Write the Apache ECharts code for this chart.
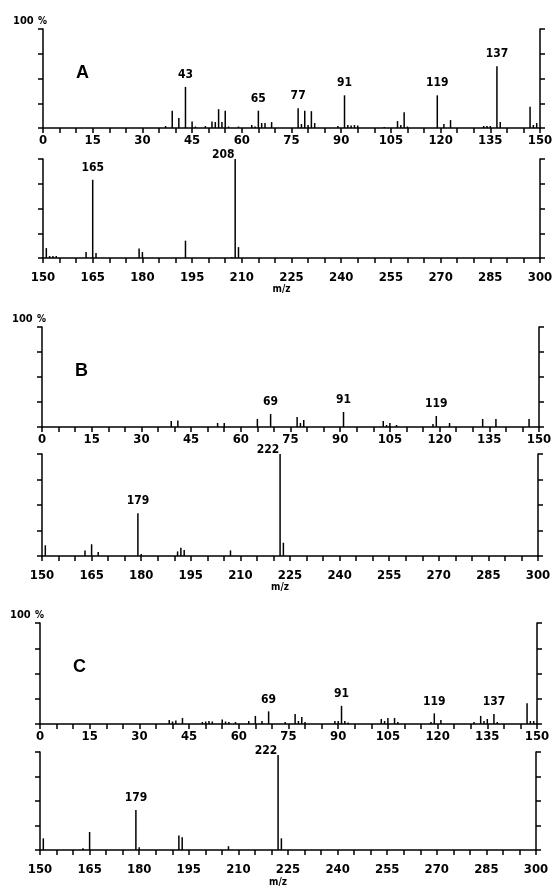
<!DOCTYPE html>
<html>
<head>
<meta charset="utf-8">
<script src="https://cdn.jsdelivr.net/npm/echarts@6/dist/echarts.min.js"></script>
<style>
  html, body { margin: 0; padding: 0; background: #fff; }
  #chart { width: 557px; height: 888px; }
</style>
</head>
<body>
<div id="chart"></div>
<script>
// spectrum A
const aLoMz  = [37, 39, 41, 43, 45, 46, 49, 51, 52, 53, 54, 55, 56, 59, 63, 64, 65, 66, 67, 69, 77, 78, 79, 80, 81, 82, 89, 91, 92, 93, 94, 95, 103, 107, 108, 109, 110, 119, 121, 123, 133, 134, 135, 137, 138, 147, 148, 149];
const aLoInt = [2, 17.5, 10, 41.5, 6.5, 1.5, 2, 6.5, 6, 19, 6, 17.5, 1.5, 1.5, 3, 1.5, 17.5, 5, 5, 6, 20, 4, 17.5, 3, 17, 5, 2, 33, 3, 2.5, 3, 2.5, 1, 7, 3, 16, 1.5, 33, 4, 8, 2, 2, 2, 62.5, 6, 21.5, 3, 5];
const aLoTags = [43, 65, 77, 91, 119, 137];
const aHiMz  = [151, 152, 153, 154, 163, 165, 166, 179, 180, 193, 207, 208, 209];
const aHiInt = [10, 2, 2, 2, 6, 79, 5, 9.5, 6, 17.5, 1, 100, 11];
const aHiTags = [165, 208];

// spectrum B
const bLoMz  = [39, 41, 53, 55, 65, 69, 77, 78, 79, 91, 103, 104, 105, 107, 118, 119, 123, 133, 137, 147];
const bLoInt = [6, 6.5, 4, 4, 8, 13, 10, 4, 7, 15, 6, 2, 4, 2, 3, 11, 4, 8, 8, 8];
const bLoTags = [69, 91, 119];
const bHiMz  = [151, 163, 165, 167, 179, 180, 191, 192, 193, 207, 222, 223];
const bHiInt = [10.5, 5.5, 11.5, 4, 42, 2, 4.5, 8, 6, 5.5, 100, 13];
const bHiTags = [179, 222];

// spectrum C
const cLoMz  = [39, 40, 41, 43, 49, 50, 51, 52, 55, 56, 57, 59, 63, 65, 67, 69, 74, 77, 78, 79, 80, 89, 90, 91, 92, 93, 103, 104, 105, 107, 108, 118, 119, 121, 131, 133, 134, 135, 137, 138, 147, 148, 149];
const cLoInt = [4, 2.5, 3.5, 6, 2, 2.5, 3, 2.5, 4.5, 2.5, 2, 2, 3, 8, 3, 12.5, 2, 10, 3, 7, 2, 3, 3, 18, 3, 1.5, 5, 3, 6, 6, 2, 2, 10.5, 4, 2, 8, 3, 5, 10, 2, 20.5, 3, 3];
const cLoTags = [69, 91, 119, 137];
const cHiMz  = [151, 163, 165, 179, 180, 192, 193, 207, 222, 223];
const cHiInt = [12, 2, 18.5, 41, 3, 15, 13, 4, 97, 12];
const cHiTags = [179, 222];

const letters = ['A', 'B', 'C'];

const FONT = "'DejaVu Sans Condensed', 'Liberation Sans Narrow', sans-serif";

const panels = [
  { box: { left: 43, top: 29, width: 497, height: 99 },  min: 0,   max: 150, mz: aLoMz, val: aLoInt, tags: aLoTags, low: true },
  { box: { left: 43, top: 159, width: 497, height: 99 }, min: 150, max: 300, mz: aHiMz, val: aHiInt, tags: aHiTags, low: false },
  { box: { left: 42, top: 327, width: 497, height: 100 }, min: 0,   max: 150, mz: bLoMz, val: bLoInt, tags: bLoTags, low: true },
  { box: { left: 42, top: 454, width: 496, height: 102 }, min: 150, max: 300, mz: bHiMz, val: bHiInt, tags: bHiTags, low: false },
  { box: { left: 40, top: 623, width: 497, height: 101 }, min: 0,   max: 150, mz: cLoMz, val: cLoInt, tags: cLoTags, low: true },
  { box: { left: 40, top: 752, width: 496, height: 101 }, min: 150, max: 300, mz: cHiMz, val: cHiInt, tags: cHiTags, low: false }
];

const grid = [], xAxis = [], yAxis = [], series = [];

panels.forEach((p, i) => {
  grid.push(Object.assign({ containLabel: false }, p.box));

  xAxis.push({
    gridIndex: i,
    type: 'value',
    min: p.min,
    max: p.max,
    interval: 5,
    axisLine: { show: true, onZero: false, lineStyle: { color: '#000', width: 1.5 } },
    axisTick: { show: true, inside: false, length: 5, lineStyle: { color: '#000', width: 1.5 } },
    axisLabel: {
      formatter: v => (v % 15 === 0 ? String(v) : ''),
      margin: p.low ? 6 : 13,
      color: '#000',
      fontFamily: FONT,
      fontWeight: 'bold',
      fontSize: 13,
      showMinLabel: true,
      showMaxLabel: true
    },
    splitLine: { show: false },
    name: p.low ? '' : 'm/z',
    nameLocation: 'middle',
    nameGap: 25,
    nameTextStyle: { color: '#000', fontFamily: FONT, fontWeight: 'bold', fontSize: 10, padding: [0, 20, 0, 0] }
  });

  // left and right frame axes, ticks pointing outward
  ['left', 'right'].forEach(pos => {
    yAxis.push({
      gridIndex: i,
      type: 'value',
      position: pos,
      min: 0,
      max: 100,
      interval: 25,
      axisLine: { show: true, lineStyle: { color: '#000', width: 1.5 } },
      axisTick: { show: true, inside: false, length: 5, lineStyle: { color: '#000', width: 1.5 } },
      axisLabel: { show: false },
      splitLine: { show: false }
    });
  });

  const data = p.mz.map((m, k) => {
    const item = { value: [m, p.val[k]] };
    if (p.tags.includes(m)) {
      const atTop = p.val[k] >= 90;
      item.label = {
        show: true,
        position: 'top',
        distance: 6,
        offset: atTop ? [-12, 8] : [0, 0],
        formatter: String(m),
        color: '#000',
        fontFamily: FONT,
        fontWeight: 'bold',
        fontSize: 12
      };
    }
    return item;
  });

  series.push({
    type: 'bar',
    xAxisIndex: i,
    yAxisIndex: i * 2,
    barWidth: 1.5,
    itemStyle: { color: '#000' },
    label: { show: false },
    silent: true,
    animation: false,
    data
  });
});

const graphic = [];
[0, 2, 4].forEach((pi, j) => {
  const top = panels[pi].box.top;
  const left = panels[pi].box.left;
  graphic.push({
    type: 'text',
    left: left - 30, top: top - 13,
    style: { text: '100', fill: '#000', font: "bold 11px " + FONT }
  });
  graphic.push({
    type: 'text',
    left: left - 5, top: top - 13,
    style: { text: '%', fill: '#000', font: "bold 10px " + FONT }
  });
  graphic.push({
    type: 'text',
    left: left + 33, top: top + 35,
    style: { text: letters[j], fill: '#000', font: "bold 18px 'Liberation Sans', Arial, sans-serif" }
  });
});

const chart = echarts.init(document.getElementById('chart'), null, { renderer: 'canvas' });
chart.setOption({
  animation: false,
  backgroundColor: '#fff',
  grid, xAxis, yAxis, series, graphic
});
</script>
</body>
</html>
